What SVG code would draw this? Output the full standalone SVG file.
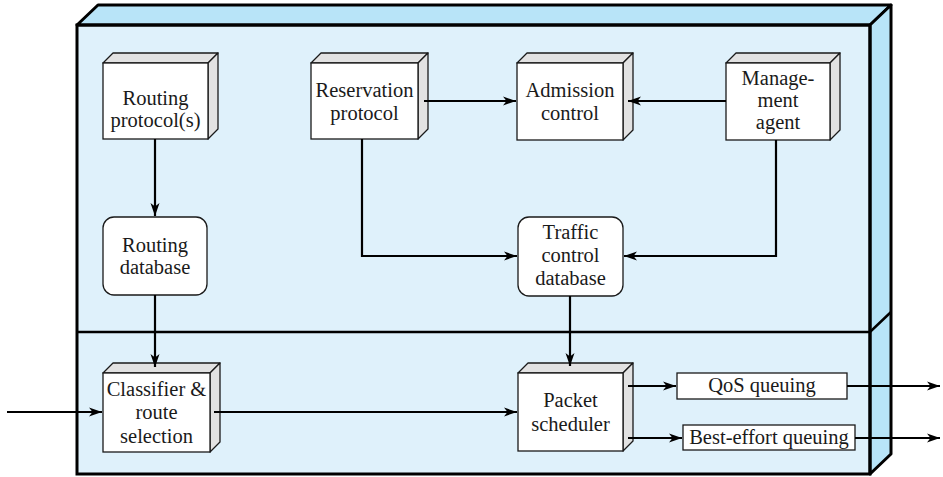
<svg xmlns="http://www.w3.org/2000/svg" width="943" height="477" viewBox="0 0 943 477">
<style>
.t{font-family:"Liberation Serif","Times New Roman",serif;font-size:20.5px;fill:#1a1a1a;text-anchor:middle}
.front{fill:#ffffff;stroke:#1a1a1a;stroke-width:1.3}
.shade{fill:#e2e2e2;stroke:#1a1a1a;stroke-width:1.3;stroke-linejoin:round}
.rr{fill:#ffffff;stroke:#1a1a1a;stroke-width:1.3}
.c{fill:none;stroke:#000;stroke-width:2.2}
.ca{fill:none;stroke:#000;stroke-width:2.2;marker-end:url(#ah)}
</style>
<defs>
<marker id="ah" markerUnits="userSpaceOnUse" markerWidth="14" markerHeight="10" refX="13" refY="5" orient="auto">
<path d="M0,0.5 L13,5 L0,9.5 L3.5,5 Z" fill="#000"/>
</marker>
</defs>
<g id="frame">
<rect x="77" y="25" width="793" height="449" fill="#dff1fb"/>
<polygon points="77,25 98,5 891,5 870,25" fill="#b8e4f8" stroke="#000" stroke-width="3" stroke-linejoin="round"/>
<polygon points="870,25 891,5 891,454 870,474" fill="#b8e4f8" stroke="#000" stroke-width="3" stroke-linejoin="round"/>
<rect x="77" y="25" width="793" height="449" fill="none" stroke="#000" stroke-width="3"/>
<path d="M77,332 L870,332 L891,312" fill="none" stroke="#000" stroke-width="2.5"/>
</g>
<g id="n-routing-protocol">
<polygon class="shade" points="103,63 113,53 218,53 208,63"/>
<polygon class="shade" points="208,63 218,53 218,129 208,139"/>
<rect class="front" x="103" y="63" width="105" height="76"/>
<text class="t" x="155.5" y="105">Routing</text>
<text class="t" x="155.5" y="127">protocol(s)</text>
</g>
<g id="n-reservation-protocol">
<polygon class="shade" points="311,63 321,53 428,53 418,63"/>
<polygon class="shade" points="418,63 428,53 428,129 418,139"/>
<rect class="front" x="311" y="63" width="107" height="76"/>
<text class="t" x="364.5" y="97">Reservation</text>
<text class="t" x="364.5" y="120">protocol</text>
</g>
<g id="n-admission-control">
<polygon class="shade" points="517,63 527,53 633,53 623,63"/>
<polygon class="shade" points="623,63 633,53 633,130 623,140"/>
<rect class="front" x="517" y="63" width="106" height="77"/>
<text class="t" x="570" y="97">Admission</text>
<text class="t" x="570" y="120">control</text>
</g>
<g id="n-management-agent">
<polygon class="shade" points="726,63 736,53 840,53 830,63"/>
<polygon class="shade" points="830,63 840,53 840,130 830,140"/>
<rect class="front" x="726" y="63" width="104" height="77"/>
<text class="t" x="778" y="85">Manage-</text>
<text class="t" x="778" y="107">ment</text>
<text class="t" x="778" y="129">agent</text>
</g>
<g id="n-routing-database">
<rect class="rr" x="103" y="217" width="104" height="78" rx="11" ry="11"/>
<text class="t" x="155" y="252">Routing</text>
<text class="t" x="155" y="274">database</text>
</g>
<g id="n-traffic-control-database">
<rect class="rr" x="518" y="217" width="105" height="79" rx="11" ry="11"/>
<text class="t" x="570.5" y="239">Traffic</text>
<text class="t" x="570.5" y="262">control</text>
<text class="t" x="570.5" y="285">database</text>
</g>
<g id="n-classifier">
<polygon class="shade" points="103,373 113,363 220,363 210,373"/>
<polygon class="shade" points="210,373 220,363 220,442 210,452"/>
<rect class="front" x="103" y="373" width="107" height="79"/>
<text class="t" x="156.5" y="396">Classifier &amp;</text>
<text class="t" x="156.5" y="419">route</text>
<text class="t" x="156.5" y="443">selection</text>
</g>
<g id="n-packet-scheduler">
<polygon class="shade" points="518,373 528,363 633,363 623,373"/>
<polygon class="shade" points="623,373 633,363 633,441 623,451"/>
<rect class="front" x="518" y="373" width="105" height="78"/>
<text class="t" x="570.5" y="407">Packet</text>
<text class="t" x="570.5" y="431">scheduler</text>
</g>
<g id="n-qos-queuing">
<rect class="front" x="677" y="373" width="170" height="26"/>
<text class="t" x="762" y="392">QoS queuing</text>
</g>
<g id="n-best-effort-queuing">
<rect class="front" x="683" y="425" width="172" height="25"/>
<text class="t" x="769" y="444">Best-effort queuing</text>
</g>
<g id="connectors">
<path class="ca" d="M155,139 L155,216"/>
<path class="ca" d="M155,295 L155,367"/>
<path class="ca" d="M7,412 L102,412"/>
<path class="ca" d="M214,412 L517,412"/>
<path class="ca" d="M424,101 L516,101"/>
<path class="ca" d="M726,101 L628,101"/>
<path class="ca" d="M362,139 L362,256 L517,256"/>
<path class="ca" d="M776,140 L776,256 L624,256"/>
<path class="ca" d="M570,296 L570,366"/>
<path class="ca" d="M628,386 L676,386"/>
<path class="ca" d="M628,438 L682,438"/>
<path class="ca" d="M847,386 L940,386"/>
<path class="ca" d="M855,438 L940,438"/>
</g>
</svg>
